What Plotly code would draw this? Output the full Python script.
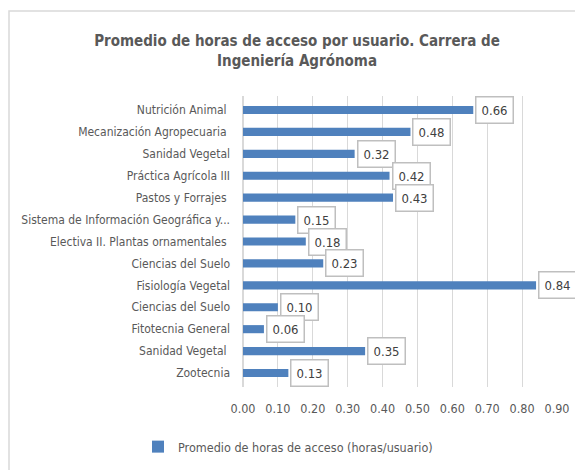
import plotly.graph_objects as go

categories = [
    "Nutrición Animal\u00a0",
    "Mecanización Agropecuaria\u00a0",
    "Sanidad Vegetal",
    "Práctica Agrícola III",
    "Pastos y Forrajes\u00a0",
    "Sistema de Información Geográfica y...",
    "Electiva II. Plantas ornamentales\u00a0",
    "Ciencias del Suelo",
    "Fisiología Vegetal",
    "Ciencias del Suelo",
    "Fitotecnia General",
    "Sanidad Vegetal\u00a0",
    "Zootecnia",
]
values = [0.66, 0.48, 0.32, 0.42, 0.43, 0.15, 0.18, 0.23, 0.84, 0.10, 0.06, 0.35, 0.13]
x_ticks = [0.0, 0.1, 0.2, 0.3, 0.4, 0.5, 0.6, 0.7, 0.8, 0.9]
series_name = "Promedio de horas de acceso (horas/usuario)"
title_text = "Promedio de horas de acceso por usuario. Carrera de<br>Ingeniería Agrónoma"

positions = list(range(len(categories)))

# page body has an 8px margin: figure coordinates = page coordinates - 8
OFF = 8
W, H = 583 - OFF, 470 - OFF
L, T = 243 - OFF, 96 - OFF
R = W - (557 - OFF)
B = H - (387 - OFF)
pw, ph = W - L - R, H - T - B

def px_x(p):
    return (p - OFF - L) / pw

def px_y(p):
    return (H - B - (p - OFF)) / ph

label_font = "DejaVu Sans Condensed, sans-serif"
gray = "#595959"

fig = go.Figure()
fig.add_trace(go.Bar(
    x=values, y=positions, orientation="h",
    marker=dict(color="#4f81bd", line=dict(width=0)),
    width=0.37, name=series_name, showlegend=True,
))

for v, p in zip(values, positions):
    fig.add_annotation(
        x=v, y=p, xref="x", yref="y", text=f"{v:.2f}", showarrow=False,
        xanchor="left", yanchor="middle", xshift=2,
        font=dict(family=label_font, size=13, color="#404040"),
        bordercolor="#bfbfbf", borderwidth=1.5, borderpad=5, bgcolor="white",
    )

fig.add_shape(type="rect", xref="paper", yref="paper",
              x0=px_x(9), x1=1.3, y0=-0.5, y1=px_y(11),
              line=dict(color="#d9d9d9", width=1.5), fillcolor="rgba(0,0,0,0)",
              layer="below")

fig.update_layout(
    width=W, height=H,
    margin=dict(l=L, r=R, t=T, b=B, autoexpand=False),
    paper_bgcolor="white", plot_bgcolor="white",
    title=dict(text=title_text, x=(297 - OFF) / W, xanchor="center",
               y=1 - 38 / H, yanchor="top",
               font=dict(family=label_font, size=15, color=gray, weight="bold")),
    xaxis=dict(range=[0, 0.9], tickvals=x_ticks, tickformat=".2f",
               showgrid=True, gridcolor="#d9d9d9", gridwidth=1,
               zeroline=True, zerolinecolor="#d9d9d9", showline=False,
               ticks="", ticklen=0, automargin=False, ticklabelstandoff=12,
               tickfont=dict(family=label_font, size=12.5, color=gray)),
    yaxis=dict(tickvals=positions, ticktext=categories, autorange="reversed",
               showgrid=False, zeroline=False, showline=False, ticks="",
               automargin=False, ticklabelstandoff=12,
               tickfont=dict(family=label_font, size=12, color=gray)),
    legend=dict(orientation="h", x=(288 - OFF) / W, xref="container", xanchor="center",
                y=px_y(447), yanchor="middle",
                font=dict(family=label_font, size=12.5, color=gray)),
    bargap=0.63,
)

fig.write_html("out.html")
